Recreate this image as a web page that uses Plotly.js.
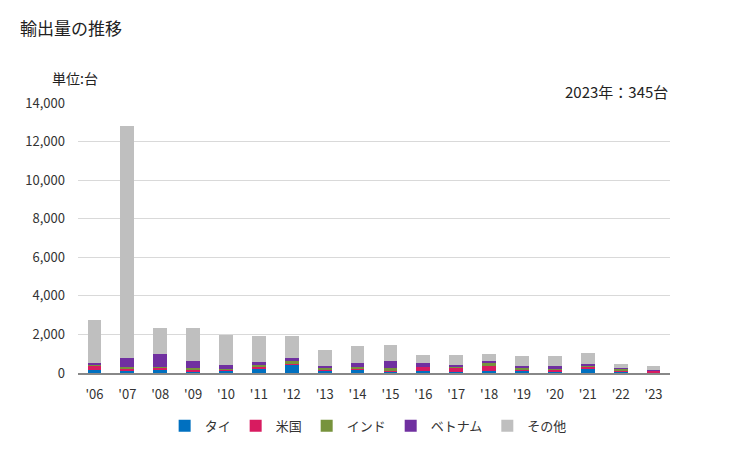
<!DOCTYPE html>
<html>
<head>
<meta charset="utf-8">
<script src="https://cdn.plot.ly/plotly-3.0.1.min.js"></script>
<style>
  body { margin: 0; background: #fff; }
  #chart { width: 729px; height: 450px; }
</style>
</head>
<body>
<div id="chart"></div>
<script>
// 年（横軸ラベル）
var years = ["'06", "'07", "'08", "'09", "'10", "'11", "'12", "'13", "'14", "'15", "'16", "'17", "'18", "'19", "'20", "'21", "'22", "'23"];

// 国別の輸出量（台）— グラフから読み取った概算値
var thai    = [173, 104, 173,  69,  86, 207, 397,  86, 173,  52, 104,  52, 104, 104,  69, 207,  52,  17];
var usa     = [207, 121,  86, 104,  86, 104,  86,  69,  17,  52, 207, 207, 259,  52,  86, 104,  52,  86];
var india   = [ 35,  69,  52,  86,  35, 104, 138, 104, 121, 155,  17,  52, 138, 104,  52,  52, 104,  17];
var vietnam = [104, 484, 674, 363, 207, 173, 155, 104, 207, 363, 190, 104, 121, 104, 155, 104,  52,  35];
var others  = [2230, 12040, 1347, 1710, 1555, 1346, 1158, 829, 881, 829, 415, 518, 363, 517, 519, 569, 206, 190];

var names  = ["タイ", "米国", "インド", "ベトナム", "その他"];
var series = [thai, usa, india, vietnam, others];
var colors = ["#0070C0", "#D81B60", "#77933C", "#7030A0", "#BFBFBF"];

var jp = '"Noto Sans CJK JP", "Noto Sans", sans-serif';

var data = series.map(function(vals, i) {
  return {
    x: years,
    y: vals,
    name: names[i],
    type: "bar",
    marker: {color: colors[i]},
    hoverinfo: "x+y+name"
  };
});

var layout = {
  barmode: "stack",
  bargap: 0.58,
  width: 729,
  height: 450,
  margin: {l: 78, r: 59, t: 103, b: 77},
  paper_bgcolor: "#fff",
  plot_bgcolor: "#fff",
  font: {family: jp, color: "#333", size: 13},
  showlegend: true,
  legend: {
    orientation: "h",
    xref: "container", yref: "container",
    x: 0.505, xanchor: "center",
    y: 0.087, yanchor: "top",
    font: {size: 13, color: "#333"},
    itemwidth: 30,
    traceorder: "normal"
  },
  xaxis: {
    type: "category",
    automargin: false,
    showgrid: false,
    showline: true,
    linecolor: "#888",
    linewidth: 2,
    ticks: "",
    ticklabelstandoff: 8,
    tickfont: {size: 13, color: "#333"}
  },
  yaxis: {
    range: [0, 14000],
    dtick: 2000,
    tickformat: ",d",
    automargin: false,
    showgrid: true,
    gridcolor: "#d9d9d9",
    gridwidth: 1,
    zeroline: false,
    showline: false,
    ticks: "",
    ticklabelstandoff: 12,
    tickfont: {size: 13, color: "#333"}
  },
  annotations: [
    {text: "輸出量の推移", xref: "paper", yref: "paper", x: -0.101, y: 1.281, xanchor: "left", yanchor: "middle", showarrow: false, font: {size: 17, color: "#222", family: jp}},
    {text: "単位:台", xref: "paper", yref: "paper", x: -0.047, y: 1.093, xanchor: "left", yanchor: "middle", showarrow: false, font: {size: 14, color: "#222", family: jp}},
    {text: "2023年：345台", xref: "paper", yref: "paper", x: 1.0, y: 1.041, xanchor: "right", yanchor: "middle", showarrow: false, font: {size: 15, color: "#222", family: jp}}
  ]
};

Plotly.newPlot("chart", data, layout, {displayModeBar: false, staticPlot: true});
</script>
</body>
</html>
